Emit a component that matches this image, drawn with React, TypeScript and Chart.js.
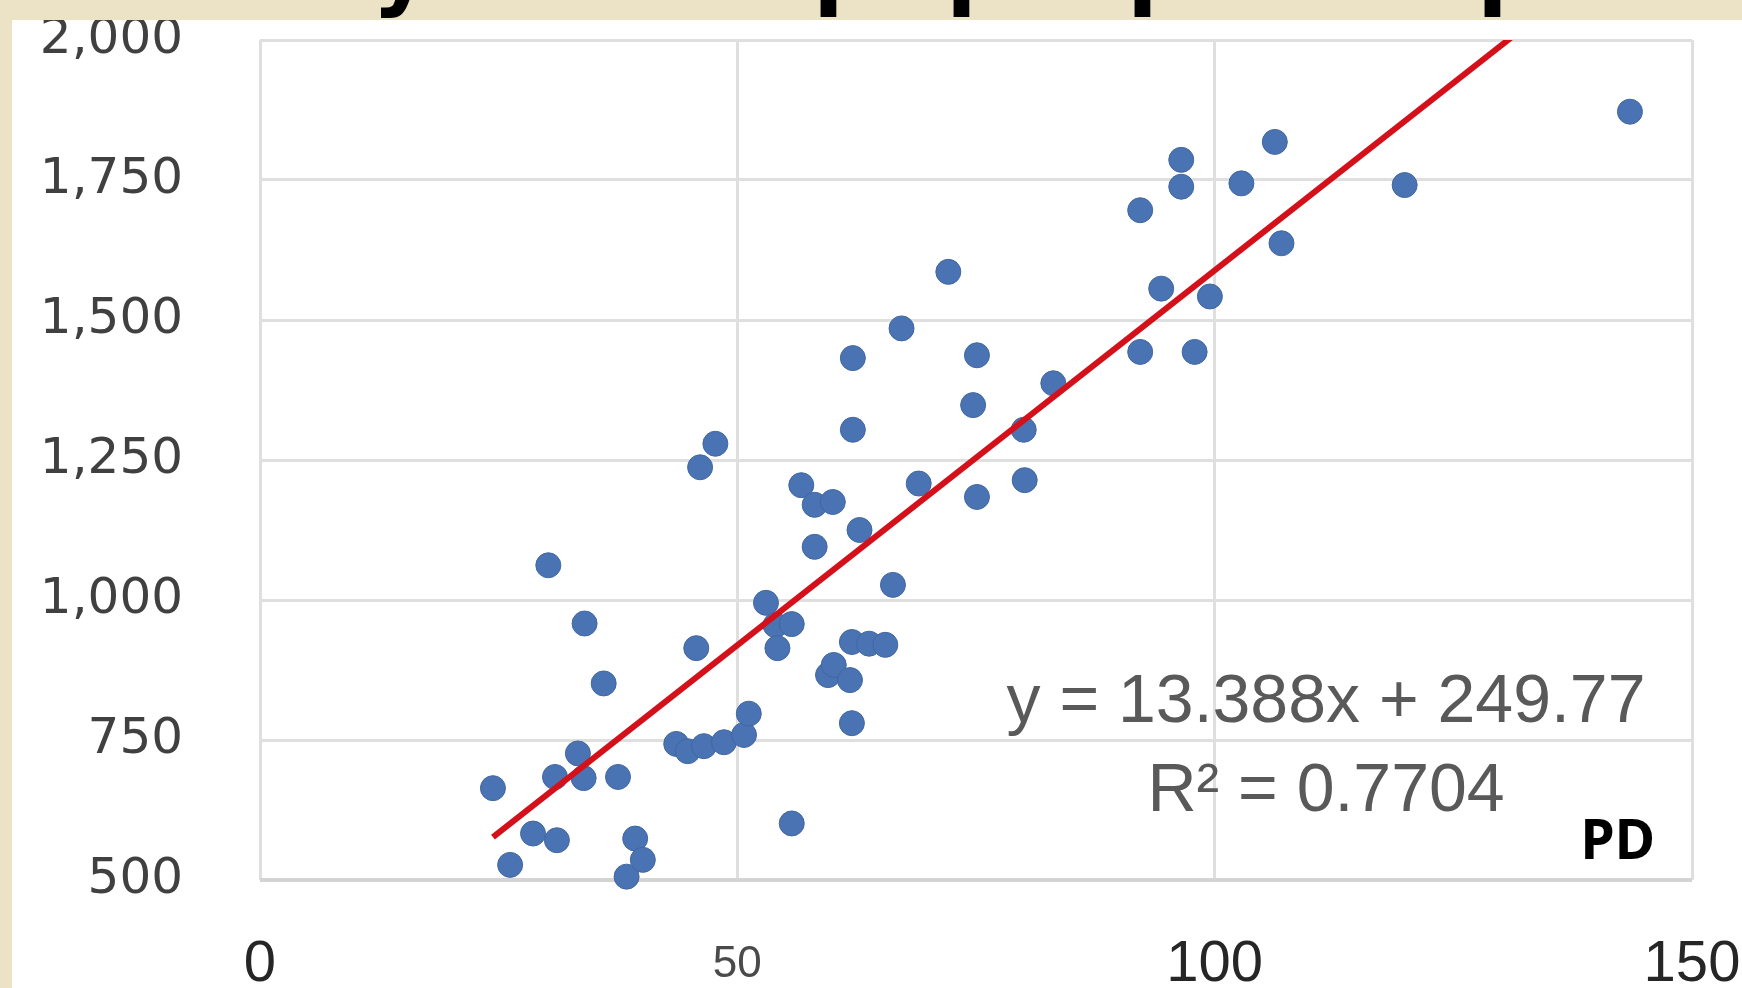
import React, { useEffect, useRef } from "react";
import { Chart, registerables } from "chart.js";

Chart.register(...registerables);

// ---- data ----
const pointsX = [
  24.4, 26.2, 28.6, 30.2, 30.9, 31.1, 33.3, 33.9, 34.0, 36.0,
  37.5, 38.4, 39.3, 40.1, 43.6, 44.8, 45.7, 46.1, 46.5, 47.7,
  48.6, 50.7, 51.2, 53.0, 54.0, 54.2, 55.7, 55.7, 56.7, 58.1,
  58.1, 59.5, 60.0, 60.1, 61.8, 62.0, 62.0, 62.1, 62.1, 62.8,
  63.8, 65.5, 66.3, 67.2, 69.0, 72.1, 74.7, 75.1, 75.1, 80.0,
  80.1, 83.1, 92.2, 92.2, 94.4, 96.5, 96.5, 97.9, 99.5, 102.8,
  106.3, 107.0, 119.9, 143.5,
];
const pointsY = [
  664, 527, 583, 1062, 684, 571, 726, 682, 958, 851,
  684, 506, 574, 536, 743, 730, 914, 1237, 739, 1279,
  746, 759, 797, 995, 955, 914, 957, 601, 1205, 1170,
  1095, 866, 1175, 884, 857, 780, 925, 1432, 1304, 1125,
  922, 920, 1027, 1485, 1208, 1586, 1348, 1437, 1184, 1304,
  1214, 1387, 1696, 1443, 1556, 1786, 1738, 1443, 1542, 1744,
  1818, 1637, 1741, 1872,
];
const xTickValues = [0, 50, 100, 150];
const yTickValues = [500, 750, 1000, 1250, 1500, 1750, 2000];
const slope = 13.388;
const intercept = 249.77;
const rSquared = 0.7704;
const trendX = [24.4, 143.5];
const seriesLabel = "PD";
const titleFragments = ["y", "p", "p", "p", "p"];

const equationText = `y = ${slope}x + ${intercept}`;
const rSquaredText = `R\u00B2 = ${rSquared}`;

const fragmentLefts = [372, 813, 946, 1127, 1477];

const annotationPlugin = {
  id: "annotations",
  afterDraw(chart: any) {
    const ctx = chart.ctx as CanvasRenderingContext2D;
    ctx.save();
    ctx.fillStyle = "#595959";
    ctx.font = '68px "Liberation Sans", Arial, sans-serif';
    ctx.textAlign = "center";
    ctx.textBaseline = "alphabetic";
    ctx.fillText(equationText, 1326, 722);
    ctx.fillText(rSquaredText, 1326, 811);
    ctx.fillStyle = "#000000";
    ctx.font = 'bold 55px "Noto Sans", sans-serif';
    ctx.textAlign = "right";
    ctx.fillText(seriesLabel, 1655, 859);
    ctx.restore();
  },
};

export default function App() {
  const canvasRef = useRef<HTMLCanvasElement | null>(null);

  useEffect(() => {
    document.body.style.margin = "0";
    document.body.style.overflow = "hidden";
    const canvas = canvasRef.current;
    if (!canvas) return;

    const points = pointsX.map((x, i) => ({ x, y: pointsY[i] }));
    const trend = trendX.map((x) => ({ x, y: slope * x + intercept }));

    const gridColor = (c: any) =>
      c.tick && c.tick.value === 500 ? "#d4d4d4" : "#dfdfdf";
    const gridWidth = (c: any) => (c.tick && c.tick.value === 500 ? 4 : 3);

    const chart = new Chart(canvas, {
      type: "scatter",
      data: {
        datasets: [
          {
            type: "line",
            label: "trend",
            data: trend,
            borderColor: "#d4111b",
            borderWidth: 6,
            pointRadius: 0,
            fill: false,
            order: 0,
          } as any,
          {
            label: seriesLabel,
            data: points,
            backgroundColor: "#4a73b3",
            borderColor: "#42679f",
            borderWidth: 1,
            pointRadius: 12.5,
            pointHoverRadius: 12.5,
            clip: false,
            order: 1,
          } as any,
        ],
      },
      options: {
        responsive: false,
        animation: false,
        events: [],
        layout: { padding: { top: 40, right: 50, left: 0, bottom: 0 } },
        plugins: {
          legend: { display: false },
          tooltip: { enabled: false },
          title: { display: false },
        },
        scales: {
          x: {
            type: "linear",
            min: 0,
            max: 150,
            afterBuildTicks: (s: any) => {
              s.ticks = xTickValues.map((v) => ({ value: v }));
            },
            ticks: {
              padding: 49,
              color: (c: any) =>
                c.tick && c.tick.value === 50 ? "#4a4a4a" : "#262626",
              font: (c: any) =>
                c.tick && c.tick.value === 50
                  ? { family: '"Liberation Sans", Arial, sans-serif', size: 44, lineHeight: "72px" }
                  : { family: '"Liberation Sans", Arial, sans-serif', size: 58, lineHeight: "72px" },
              maxRotation: 0,
              autoSkip: false,
            },
            grid: { color: gridColor, lineWidth: 3, drawTicks: false },
            border: { display: false },
            afterFit: (s: any) => {
              s.height = 180;
              s.paddingLeft = 0;
              s.paddingRight = 0;
            },
          },
          y: {
            type: "linear",
            min: 500,
            max: 2000,
            afterBuildTicks: (s: any) => {
              s.ticks = yTickValues.map((v) => ({ value: v }));
            },
            ticks: {
              padding: 77,
              color: "#404040",
              font: { family: '"DejaVu Sans", Verdana, sans-serif', size: 50 },
              callback: (v: any) => Number(v).toLocaleString("en-US"),
              autoSkip: false,
            },
            grid: { color: gridColor, lineWidth: gridWidth, drawTicks: false },
            border: { display: false },
            afterFit: (s: any) => {
              s.width = 260;
              s.paddingTop = 0;
              s.paddingBottom = 0;
            },
          },
        },
      },
      plugins: [annotationPlugin],
    } as any);

    return () => {
      chart.destroy();
    };
  }, []);

  return (
    <div
      style={{
        position: "relative",
        width: 1742,
        height: 988,
        overflow: "hidden",
        background: "#ECE3C6",
      }}
    >
      <div
        style={{
          position: "absolute",
          left: 12,
          top: 20,
          right: 0,
          bottom: 0,
          background: "#ffffff",
        }}
      />
      <canvas
        ref={canvasRef}
        width={1742}
        height={1060}
        style={{ position: "absolute", left: 0, top: 0, width: 1742, height: 1060 }}
      />
      <div
        style={{
          position: "absolute",
          left: 0,
          top: 0,
          width: 1742,
          height: 20,
          overflow: "hidden",
          background: "#ECE3C6",
          zIndex: 2,
        }}
      >
        {titleFragments.map((ch, i) => (
          <span
            key={i}
            style={{
              position: "absolute",
              left: fragmentLefts[i],
              top: -78,
              font: 'bold 90px "DejaVu Sans", sans-serif',
              lineHeight: "90px",
              color: "#000",
            }}
          >
            {ch}
          </span>
        ))}
      </div>
    </div>
  );
}
